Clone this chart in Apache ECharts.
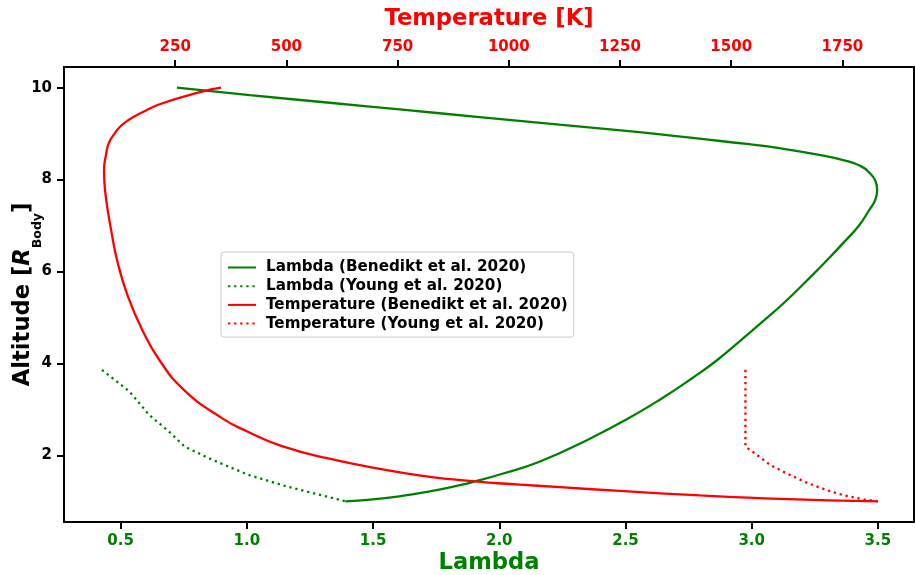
<!DOCTYPE html>
<html>
<head>
<meta charset="utf-8">
<script src="https://cdn.jsdelivr.net/npm/echarts@6/dist/echarts.min.js"></script>
<style>
html,body{margin:0;padding:0;background:#fff;}
#chart{width:915px;height:575px;}
</style>
</head>
<body>
<div id="chart"></div>
<script>
// ---- data ----
const altLambdaBenedikt = [10.0, 9.837, 9.672, 9.526, 9.361, 9.196, 9.031, 8.890, 8.770, 8.685, 8.538, 8.409, 8.288, 8.157, 7.984, 7.771, 7.550, 7.333, 7.007, 6.681, 6.290, 5.81, 5.38, 4.94, 4.515, 4.059, 3.668, 3.233, 2.790, 2.336, 1.862, 1.583, 1.431, 1.350, 1.214, 1.110, 1.036, 1.0];
const lambdaBenedikt    = [0.723, 1.012, 1.328, 1.605, 1.922, 2.238, 2.555, 2.792, 2.990, 3.109, 3.267, 3.374, 3.434, 3.465, 3.489, 3.497, 3.489, 3.465, 3.426, 3.373, 3.306, 3.22, 3.14, 3.05, 2.959, 2.860, 2.761, 2.642, 2.507, 2.349, 2.159, 2.002, 1.903, 1.844, 1.725, 1.606, 1.489, 1.39];

const altLambdaYoung = [3.86, 3.39, 2.88, 2.52, 2.19, 1.94, 1.58, 1.32, 1.0];
const lambdaYoung    = [0.426, 0.535, 0.613, 0.691, 0.754, 0.848, 1.004, 1.16, 1.39];

const altTempBenedikt = [10.0, 9.91, 9.65, 9.46, 9.29, 9.15, 9.0, 8.8, 8.57, 8.2, 7.70, 6.90, 6.18, 5.45, 4.73, 4.08, 3.42, 2.81, 2.52, 2.2, 1.94, 1.61, 1.432, 1.365, 1.302, 1.226, 1.128, 1.052, 1.0];
const tempBenedikt    = [353, 308, 218, 175, 144, 126, 113.6, 101, 95, 90, 93, 106, 121, 144, 176, 214, 270, 355, 412, 490, 591, 769, 924, 1025, 1124, 1250, 1430, 1610, 1830];

const altTempYoung = [3.86, 2.19, 2.03, 1.79, 1.60, 1.40, 1.24, 1.13, 1.04, 1.0];
const tempYoung    = [1532, 1532, 1555, 1588, 1626, 1671, 1716, 1753, 1798, 1832];

const lambdaTicks = [0.5, 1.0, 1.5, 2.0, 2.5, 3.0, 3.5];
const tempTicks   = [250, 500, 750, 1000, 1250, 1500, 1750];
const altTicks    = [2, 4, 6, 8, 10];

const seriesNames = [
  'Lambda (Benedikt et al. 2020)',
  'Lambda (Young et al. 2020)',
  'Temperature (Benedikt et al. 2020)',
  'Temperature (Young et al. 2020)'
];

function zip(xs, ys) { return xs.map((x, i) => [x, ys[i]]); }

const GREEN = '#008000';
const RED = '#ff0000';
const FONT = 'DejaVu Sans';
const TICKFS = 15;
const NAMEFS = 22.67;

const chart = echarts.init(document.getElementById('chart'), null, {renderer: 'canvas'});

const lineAxis = {show: true, lineStyle: {color: '#000', width: 2}};

chart.setOption({
  animation: false,
  backgroundColor: '#fff',
  grid: {left: 64, right: 1, top: 67, bottom: 53, containLabel: false, outerBoundsMode: 'none',
         show: true, borderColor: '#000', borderWidth: 2, backgroundColor: 'transparent'},
  legend: {
    orient: 'vertical',
    left: 221, top: 252,
    data: seriesNames,
    itemWidth: 28, itemHeight: 14, itemGap: 3.7,
    padding: [8, 6, 6, 6],
    backgroundColor: 'rgba(255,255,255,0.85)',
    borderColor: '#cccccc', borderWidth: 1, borderRadius: 3,
    itemStyle: {opacity: 0},
    textStyle: {fontFamily: FONT, fontWeight: 'bold', fontSize: 15.2, color: '#000', padding: [0, 0, 0, 5]}
  },
  xAxis: [
    {
      type: 'value', position: 'bottom',
      min: 0.2756, max: 3.643,
      name: 'Lambda', nameLocation: 'middle', nameGap: 30, nameMoveOverlap: false,
      nameTextStyle: {color: GREEN, fontFamily: FONT, fontWeight: 'bold', fontSize: NAMEFS},
      axisLine: lineAxis, splitLine: {show: false},
      axisTick: {show: true, length: 7, lineStyle: {color: '#000', width: 2}, customValues: lambdaTicks},
      axisLabel: {color: GREEN, fontFamily: FONT, fontWeight: 'bold', fontSize: TICKFS, margin: 12,
                  customValues: lambdaTicks, formatter: v => v.toFixed(1)}
    },
    {
      type: 'value', position: 'top',
      min: 0, max: 1911,
      name: 'Temperature [K]', nameLocation: 'middle', nameGap: 36, nameMoveOverlap: false,
      nameTextStyle: {color: RED, fontFamily: FONT, fontWeight: 'bold', fontSize: NAMEFS},
      axisLine: lineAxis, splitLine: {show: false},
      axisTick: {show: true, length: 7, lineStyle: {color: '#000', width: 2}, customValues: tempTicks},
      axisLabel: {color: RED, fontFamily: FONT, fontWeight: 'bold', fontSize: TICKFS, margin: 12,
                  customValues: tempTicks, formatter: v => String(v)}
    }
  ],
  yAxis: [
    {
      type: 'value', position: 'left',
      min: 0.55, max: 10.45,
      name: '{a|Altitude [}{i|R}{s|Body}{a|]}', nameLocation: 'middle', nameGap: 30, nameMoveOverlap: false,
      nameTextStyle: {
        color: '#000', fontFamily: FONT, fontWeight: 'bold', fontSize: NAMEFS,
        rich: {
          a: {fontFamily: FONT, fontWeight: 'bold', fontSize: NAMEFS, lineHeight: 22, verticalAlign: 'top', color: '#000'},
          i: {fontFamily: FONT, fontWeight: 'bold', fontStyle: 'italic', fontSize: NAMEFS, lineHeight: 22, verticalAlign: 'top', color: '#000'},
          s: {fontFamily: FONT, fontWeight: 'bold', fontSize: 12.5, lineHeight: 12, padding: [19, 0, 0, 0], verticalAlign: 'top', color: '#000'}
        }
      },
      axisLine: lineAxis, splitLine: {show: false},
      axisTick: {show: true, length: 7, lineStyle: {color: '#000', width: 2}, customValues: altTicks},
      axisLabel: {color: '#000', fontFamily: FONT, fontWeight: 'bold', fontSize: TICKFS, margin: 12,
                  customValues: altTicks, formatter: v => String(v)}
    }
  ],
  series: [
    {
      name: seriesNames[0], type: 'line', xAxisIndex: 0, yAxisIndex: 0,
      data: zip(lambdaBenedikt, altLambdaBenedikt),
      symbol: 'none', smooth: 0.5,
      lineStyle: {color: GREEN, width: 2.3}, itemStyle: {color: GREEN}
    },
    {
      name: seriesNames[1], type: 'line', xAxisIndex: 0, yAxisIndex: 0,
      data: zip(lambdaYoung, altLambdaYoung),
      symbol: 'none', smooth: false,
      lineStyle: {color: GREEN, width: 2.3, type: [2.3, 3.8]}, itemStyle: {color: GREEN}
    },
    {
      name: seriesNames[2], type: 'line', xAxisIndex: 1, yAxisIndex: 0,
      data: zip(tempBenedikt, altTempBenedikt),
      symbol: 'none', smooth: 0.5,
      lineStyle: {color: RED, width: 2.3}, itemStyle: {color: RED}
    },
    {
      name: seriesNames[3], type: 'line', xAxisIndex: 1, yAxisIndex: 0,
      data: zip(tempYoung, altTempYoung),
      symbol: 'none', smooth: false,
      lineStyle: {color: RED, width: 2.3, type: [2.3, 3.8]}, itemStyle: {color: RED}
    }
  ]
});
</script>
</body>
</html>
